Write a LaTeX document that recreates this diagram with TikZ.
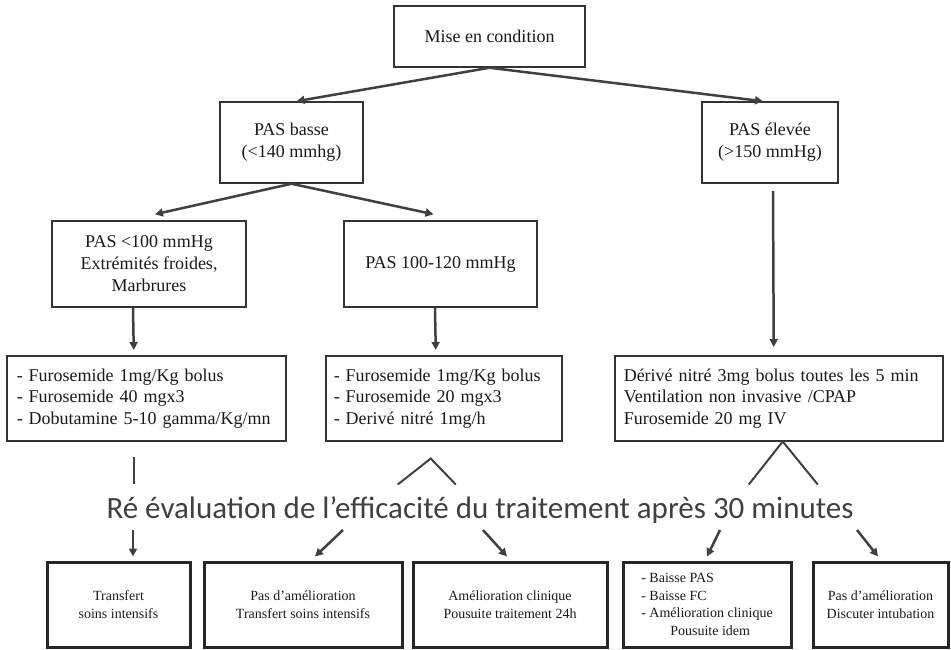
\documentclass[tikz,border=0pt]{standalone}
\usepackage{fontspec}
\setmainfont{Liberation Serif}
\newfontfamily\evalfont{Carlito}
\usetikzlibrary{arrows.meta}

\begin{document}
\begin{tikzpicture}[x=1pt,y=-1pt,
  box/.style={draw=black!80,line width=1.5pt,align=center,inner sep=0pt,text=black!90,font=\fontsize{18}{22}\selectfont},
  treat/.style={draw=black!80,line width=1.5pt,anchor=north west,minimum height=85pt,align=left,inner ysep=0pt,text=black!90,font=\fontsize{18}{21.5}\selectfont},
  result/.style={draw=black!85,line width=3pt,minimum height=85pt,inner sep=0pt,align=center,text=black!90,font=\fontsize{14}{17.5}\selectfont},
  arr/.style={draw=black!75,line width=2.5pt,-{Triangle[length=8pt,width=8pt]}},
  link/.style={draw=black!75,line width=2pt}]
\useasboundingbox (0,0) rectangle (951,649);

% decisions
\node[box,minimum width=191pt,minimum height=61pt] (mise) at (489.5,36.5) {Mise en condition};
\node[box,minimum width=143pt,minimum height=81pt] (basse) at (291.5,142.5) {PAS basse\\(<140 mmhg)};
\node[box,minimum width=136pt,minimum height=81pt] (elevee) at (770,142.5) {PAS élevée\\(>150 mmHg)};
\node[box,minimum width=194pt,minimum height=86pt] (froid) at (149,264) {PAS <100 mmHg\\Extrémités froides,\\Marbrures};
\node[box,minimum width=193pt,minimum height=86pt] (moyen) at (440.5,264) {PAS 100-120 mmHg};

% traitements
\node[treat,text width=259pt,inner xsep=10pt] (trt1) at (6,355) {- Furosemide 1mg/Kg bolus\\- Furosemide 40 mgx3\\- Dobutamine 5-10 gamma/Kg/mn};
\node[treat,text width=220pt,inner xsep=8pt] (trt2) at (325,355) {- Furosemide 1mg/Kg bolus\\- Furosemide 20 mgx3\\- Derivé nitré 1mg/h};
\node[treat,text width=310pt,inner xsep=9pt] (trt3) at (614,355) {Dérivé nitré 3mg bolus toutes les 5 min\\Ventilation non invasive /CPAP\\Furosemide 20 mg IV};

\node[font=\evalfont\fontsize{31}{36}\selectfont,text=black!75] (reeval) at (480,510) {Ré évaluation de l’efficacité du traitement après 30 minutes};

% resultats
\node[result,minimum width=143pt] (res1) at (118.5,604.5) {Transfert\\soins intensifs};
\node[result,minimum width=198pt] (res2) at (303,604.5) {Pas d’amélioration\\Transfert soins intensifs};
\node[result,minimum width=194pt] (res3) at (510,604.5) {Amélioration clinique\\Pousuite traitement 24h};
\node[result,minimum width=168pt,align=left] (res4) at (707,604.5) {- Baisse PAS\\- Baisse FC\\- Amélioration clinique\\\hspace*{29pt}Pousuite idem};
\node[result,minimum width=135pt] (res5) at (880.5,604.5) {Pas d’amélioration\\Discuter intubation};

\draw[arr] (mise.south) -- ([xshift=5pt]basse.north);
\draw[arr] (mise.south) -- ([xshift=-7pt]elevee.north);
\draw[arr] (basse.south) -- ([xshift=6pt,yshift=6pt]froid.north);
\draw[arr] (basse.south) -- ([xshift=-7pt,yshift=6pt]moyen.north);
\draw[arr] ([xshift=-16pt]froid.south) -- ([xshift=-12.5pt,yshift=5pt]trt1.north);
\draw[arr] ([xshift=-5.5pt]moyen.south) -- ([xshift=-8pt,yshift=5pt]trt2.north);
\draw[arr] ([xshift=3pt,yshift=-7pt]elevee.south) -- ([xshift=-5pt,yshift=8pt]trt3.north);

% vers la re-evaluation
\coordinate (l1a) at ([xshift=-12.5pt,yshift=-15pt]trt1.south);
\coordinate (l1b) at ([xshift=-12.5pt,yshift=-42pt]trt1.south);
\coordinate (l2a) at ([xshift=-46pt,yshift=-43pt]trt2.south);
\coordinate (l2b) at ([xshift=-13pt,yshift=-17pt]trt2.south);
\coordinate (l2c) at ([xshift=12pt,yshift=-43pt]trt2.south);
\coordinate (l3a) at ([xshift=-30pt,yshift=-43pt]trt3.south);
\coordinate (l3c) at ([xshift=39pt,yshift=-43pt]trt3.south);
\draw[link] (l1a) -- (l1b);
\draw[link] (l2a) -- (l2b) -- (l2c);
\draw[link] (l3a) -- ([xshift=4pt]trt3.south) -- (l3c);

\coordinate (e1) at (133,530);
\coordinate (e2) at (343,530);
\coordinate (e3) at (483,530);
\coordinate (e4) at (720,530);
\coordinate (e5) at (857,530);
\draw[arr] (e1) -- ([xshift=14.5pt,yshift=4pt]res1.north);
\draw[arr] (e2) -- ([xshift=12pt,yshift=4pt]res2.north);
\draw[arr] (e3) -- ([xshift=-3pt,yshift=4pt]res3.north);
\draw[arr] (e4) -- ([yshift=4pt]res4.north);
\draw[arr] (e5) -- ([xshift=-2.5pt,yshift=4pt]res5.north);
\end{tikzpicture}
\end{document}
